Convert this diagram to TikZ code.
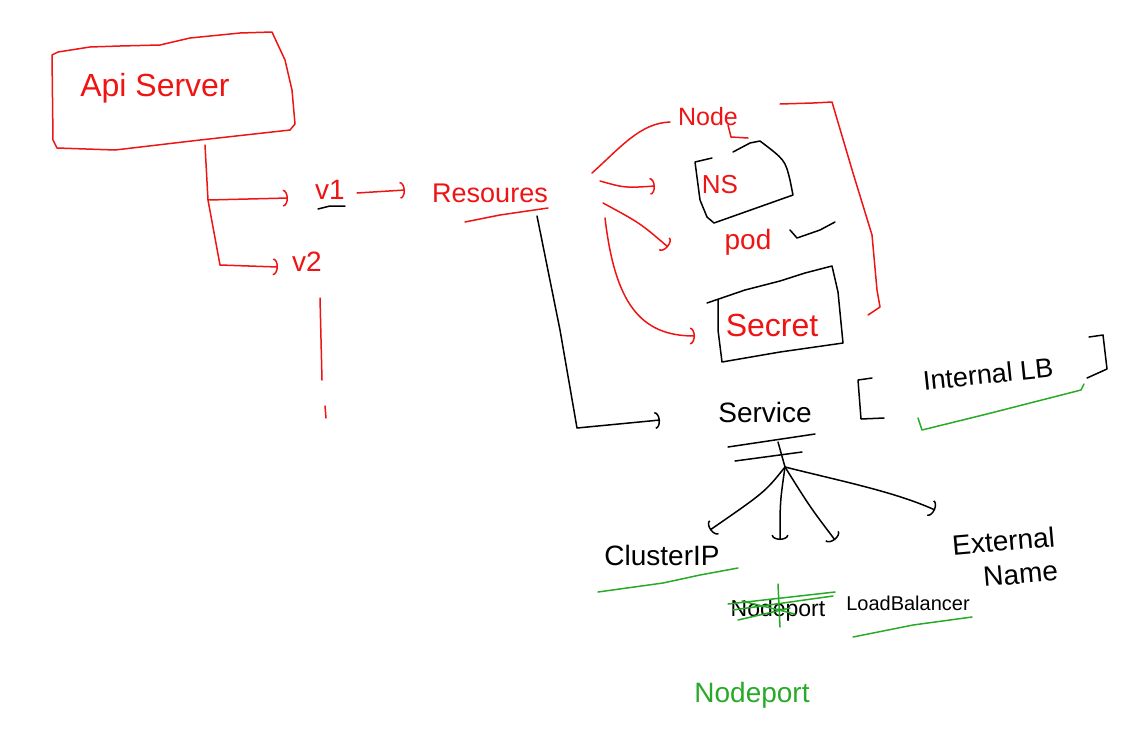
\documentclass[tikz,border=0pt]{standalone}
\usepackage{fontspec}
\setmainfont{Liberation Sans}
\usetikzlibrary{arrows.meta,calc}
\definecolor{skred}{RGB}{238,20,20}
\definecolor{skgreen}{RGB}{40,170,40}
\begin{document}
\begin{tikzpicture}[x=1pt,y=-1pt,
  rl/.style={draw=skred,line width=1.5pt,line cap=round,line join=round},
  bl/.style={draw=black,line width=1.5pt,line cap=round,line join=round},
  gl/.style={draw=skgreen,line width=1.5pt,line cap=round,line join=round},
  tip/.style={-{Arc Barb[length=5pt,width=17pt]}},
  lbl/.style={inner sep=2pt,font=\fontsize{#1}{#1}\selectfont},
  lbl/.default=26]
\useasboundingbox (0,0) rectangle (1121,732);
% ---------- nodes ----------
\node[lbl=32,text=skred] (api) at (155,88) {Api Server};
\node[lbl=28,text=skred] (v1) at (330,190) {v1};
\node[lbl=28,text=skred] (v2) at (307,262) {v2};
\node[lbl=27,text=skred] (res) at (490,193) {Resoures};
\node[lbl=25,text=skred] (nodeN) at (708,117) {Node};
\node[lbl=26,text=skred] (ns) at (720,185) {NS};
\node[lbl=28,text=skred] (pod) at (748,242) {pod};
\node[lbl=32,text=skred] (secret) at (772,325) {Secret};
\node[lbl=28] (service) at (765,412) {Service};
\node[lbl=27,rotate=6] (ilb) at (988,374) {Internal LB};
\node[lbl=28] (cip) at (662,555) {ClusterIP};
\node[lbl=23] (np) at (778,611) {Nodeport};
\node[lbl=20] (lb) at (908,603) {LoadBalancer};
\node[lbl=28,align=right,rotate=5] (ext) at (1005,558) {External\\[6pt]Name};
\node[lbl=28,text=skgreen] (np2) at (752,695) {Nodeport};
% ---------- sketched shapes ----------
\draw[rl] (52,55) -- (53,140) -- (57,148) -- (115,150) -- (200,140) -- (290,130) -- (295,124) -- (292,90) -- (285,60) -- (272,32) -- (240,33) -- (190,38) -- (160,45) -- (120,46) -- (90,47) -- (58,52) -- cycle;
\draw[bl] (318,209) -- (330,206) -- (345,206);
\draw[rl] (465,222) -- (500,215) -- (548,208);
\draw[rl] (728,125) -- (731,137) -- (748,138);
\draw[bl] (712,158) -- (695,162) -- (700,200) -- (707,217) -- (714,223) -- (793,195) -- (790,180) .. controls (785,160) .. (760,141) -- (750,143) -- (733,152);
\draw[bl] (790,230) -- (797,238) -- (820,230) -- (835,222);
\draw[bl] (707,303) -- (745,290) -- (780,281) -- (805,273) -- (832,266) -- (838,292) -- (843,343) -- (780,352) -- (722,362) -- (718,330) -- (718,300);
\draw[rl] (780,104) -- (813,103) -- (832,102) -- (853,173) -- (872,235) -- (877,290) -- (880,307) -- (868,315);
\draw[rl] (320,298) -- (322,380);
\draw[rl] (325,406) -- (326,418);
\draw[bl] (728,447) -- (815,434);
\draw[bl] (735,461) -- (802,452);
\draw[bl] (872,378) -- (858,380) -- (861,419) -- (884,418);
\draw[bl] (1089,337) -- (1103,335) -- (1107,369) -- (1087,378);
\draw[gl] (918,418) -- (922,430) -- (987,414) -- (1081,390) -- (1084,384);
\draw[gl] (598,592) -- (663,583) -- (700,575) -- (738,568);
\draw[gl] (853,637) -- (913,625) -- (972,617);
\draw[gl] (728,604) -- (835,592);
\draw[gl] (733,610) -- (833,596);
\draw[gl] (738,620) -- (790,608);
\draw[gl] (742,601) -- (795,614);
\draw[gl] (778,584) -- (780,627);
% ---------- connectors ----------
\draw[rl,tip] ($(api)+(50,57)$) -- ($(api)+(53,112)$) coordinate (j1) -- ($(v1)+(-42,8)$);
\draw[rl,tip] (j1) -- ($(v2)+(-87,3)$) -- ($(v2)+(-29,5)$);
\draw[rl,tip] ($(v1)+(27,3)$) -- ($(res)+(-85,-3)$);
\draw[rl] ($(res)+(102,-20)$) .. controls ($(res)+(130,-45)$) and ($(res)+(150,-70)$) .. ($(nodeN)+(-38,5)$);
\draw[rl,tip] ($(res)+(110,-12)$) .. controls ($(res)+(135,-5)$) .. ($(ns)+(-65,1)$);
\draw[rl,tip] ($(res)+(113,10)$) .. controls ($(res)+(150,30)$) .. ($(pod)+(-80,5)$);
\draw[rl,tip] ($(res)+(115,25)$) .. controls ($(res)+(125,110)$) and ($(res)+(150,143)$) .. ($(secret)+(-77,11)$);
\draw[bl,tip] ($(res)+(47,23)$) -- ($(res)+(70,137)$) -- ($(res)+(87,235)$) -- ($(service)+(-105,8)$);
\draw[bl] ($(service)+(13,30)$) -- ($(service)+(20,55)$) coordinate (hub);
\draw[bl,tip] (hub) .. controls ($(hub)+(-20,25)$) .. ($(cip)+(48,-25)$);
\draw[bl,tip] (hub) .. controls ($(hub)+(-5,35)$) .. ($(np)+(2,-71)$);
\draw[bl,tip] (hub) .. controls ($(hub)+(25,40)$) .. ($(lb)+(-73,-63)$);
\draw[bl,tip] (hub) .. controls ($(hub)+(60,15)$) and ($(hub)+(110,25)$) .. ($(ext)+(-70,-48)$);
\end{tikzpicture}
\end{document}
